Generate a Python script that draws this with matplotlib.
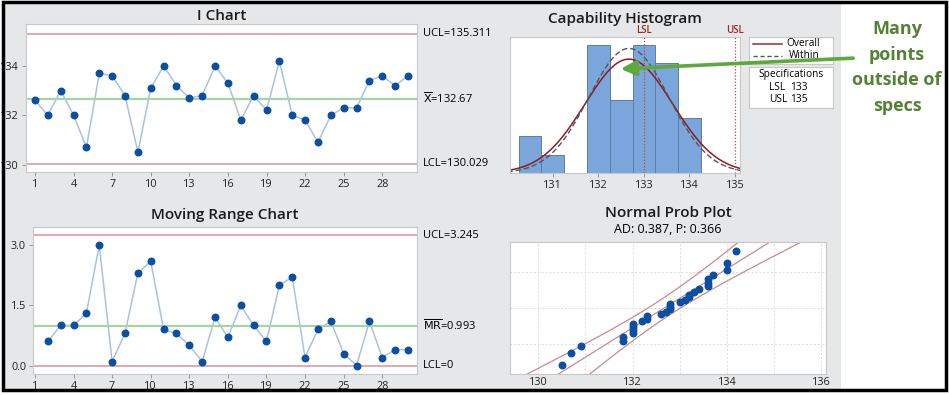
import numpy as np
import matplotlib
matplotlib.use('Agg')
import matplotlib.pyplot as plt
from matplotlib.patches import Rectangle
from statistics import NormalDist

obs = list(range(1, 31))
values = [132.6, 132.0, 133.0, 132.0, 130.7, 133.7, 133.6, 132.8, 130.5, 133.1,
          134.0, 133.2, 132.7, 132.8, 134.0, 133.3, 131.8, 132.8, 132.2, 134.2,
          132.0, 131.8, 130.9, 132.0, 132.3, 132.3, 133.4, 133.6, 133.2, 133.6]
# moving ranges (obs 2..30)
mr_obs = list(range(2, 31))
mr_values = [0.6, 1.0, 1.0, 1.3, 3.0, 0.1, 0.8, 2.3, 2.6, 0.9, 0.8, 0.5, 0.1, 1.2,
             0.7, 1.5, 1.0, 0.6, 2.0, 2.2, 0.2, 0.9, 1.1, 0.3, 0.0, 1.1, 0.2, 0.4, 0.4]
i_limits = {'UCL': 135.311, 'mean': 132.67, 'LCL': 130.029}
mr_limits = {'UCL': 3.245, 'mean': 0.993, 'LCL': 0.0}
hist_edges = [130.25, 130.75, 131.25, 131.75, 132.25, 132.75, 133.25, 133.75, 134.25]
lsl, usl = 133, 135
x_ticks = [1, 4, 7, 10, 13, 16, 19, 22, 25, 28]

W, H = 949, 395
plt.rcParams['font.family'] = ['Open Sans', 'DejaVu Sans']
fig = plt.figure(figsize=(W / 100, H / 100), dpi=100)
fig.patch.set_facecolor('white')

def box(l, t, r, b):
    return [l / W, 1 - b / H, (r - l) / W, (b - t) / H]

# background gray panel
bg = fig.add_axes([0, 0, 1, 1], zorder=-5)
bg.set_xlim(0, W); bg.set_ylim(H, 0); bg.axis('off')
bg.add_patch(Rectangle((3, 2), 838, 388, facecolor='#e6e7e8', edgecolor='none'))

pt_col = '#0b4ea2'
ln_col = '#a9c3dc'
ctr_col = '#a5d4a5'
lim_col = '#d9929a'
spine_col = '#c8c8c8'
title_kw = dict(fontsize=11, fontweight='semibold', color='#1a1a1a')
tick_kw = dict(labelsize=7.8, length=3, width=0.6, color='#888888', pad=2, labelcolor='#222222')
lab_size = 8

def style(ax):
    for s in ax.spines.values():
        s.set_color(spine_col); s.set_linewidth(0.8)
    ax.tick_params(**tick_kw)

# I chart
ax1 = fig.add_axes(box(26, 24, 417, 172))
ax1.plot(obs, values, color=ln_col, lw=1.1, zorder=2)
ax1.scatter(obs, values, s=22, color=pt_col, zorder=3)
ax1.axhline(i_limits['UCL'], color=lim_col, lw=1.1)
ax1.axhline(i_limits['LCL'], color=lim_col, lw=1.1)
ax1.axhline(i_limits['mean'], color=ctr_col, lw=1.6)
ax1.set_xlim(0.3, 30.7); ax1.set_ylim(129.7, 135.7)
ax1.set_yticks([130, 132, 134]); ax1.set_xticks(x_ticks)
style(ax1)
ax1.set_title('I Chart', pad=3, **title_kw)
for lab, v in [('UCL=135.311', i_limits['UCL']), (r'$\overline{\mathrm{X}}$=132.67', i_limits['mean']),
               ('LCL=130.029', i_limits['LCL'])]:
    ax1.annotate(lab, (1, v), xycoords=('axes fraction', 'data'), xytext=(4, 0),
                 textcoords='offset points', va='center', fontsize=lab_size)

# Moving range chart
ax2 = fig.add_axes(box(33, 227, 417, 374))
ax2.plot(mr_obs, mr_values, color=ln_col, lw=1.1, zorder=2)
ax2.scatter(mr_obs, mr_values, s=22, color=pt_col, zorder=3)
ax2.axhline(mr_limits['UCL'], color=lim_col, lw=1.1)
ax2.axhline(mr_limits['LCL'], color=lim_col, lw=1.1)
ax2.axhline(mr_limits['mean'], color=ctr_col, lw=1.6)
ax2.set_xlim(0.85, 30.7); ax2.set_ylim(-0.21, 3.45)
ax2.set_yticks([0.0, 1.5, 3.0]); ax2.set_yticklabels(['0.0', '1.5', '3.0'])
ax2.set_xticks(x_ticks)
style(ax2)
ax2.set_title('Moving Range Chart', pad=6, **title_kw)
for lab, v in [('UCL=3.245', mr_limits['UCL']), (r'$\overline{\mathrm{MR}}$=0.993', mr_limits['mean']),
               ('LCL=0', mr_limits['LCL'])]:
    ax2.annotate(lab, (1, v), xycoords=('axes fraction', 'data'), xytext=(4, 0),
                 textcoords='offset points', va='center', fontsize=lab_size)

# Capability histogram
vals = np.array(values)
mu = vals.mean()
s_overall = vals.std(ddof=1)
s_within = mr_limits['mean'] / 1.128
ax3 = fig.add_axes(box(510, 37, 740, 173))
ax3.hist(vals, bins=hist_edges, color='#7aa6dc', edgecolor='#5b7ea6', lw=0.7)
xs = np.linspace(130.0, 135.2, 300)
scale = len(vals) * 0.5
for sd, kw in [(s_overall, dict(color='#8e1b22', lw=1.1)),
               (s_within, dict(color='#555555', lw=1.0, ls=(0, (4, 2))))]:
    ax3.plot(xs, scale * np.exp(-0.5 * ((xs - mu) / sd) ** 2) / (sd * np.sqrt(2 * np.pi)), **kw)
for spec, name in [(lsl, 'LSL'), (usl, 'USL')]:
    ax3.axvline(spec, color='#c0404a', lw=0.9, ls=(0, (1, 1.5)))
    ax3.text(spec, 7.75, name, color='#a0282d', fontsize=7, ha='center', va='center',
             fontweight='semibold')
ax3.set_xlim(130.06, 135.11); ax3.set_ylim(0, 7.42)
ax3.set_xticks([131, 132, 133, 134, 135]); ax3.set_yticks([])
style(ax3)
ax3.set_title('Capability Histogram', pad=10, **title_kw)

# legend boxes
lg = fig.add_axes(box(749, 37, 833, 64))
lg.set_xlim(749, 833); lg.set_ylim(64, 37); lg.set_xticks([]); lg.set_yticks([])
for s in lg.spines.values():
    s.set_color(spine_col)
lg.plot([753, 782], [44, 44], color='#a0282d', lw=1.1)
lg.plot([753, 782], [56, 56], color='#555555', lw=1.0, ls=(0, (3, 2)))
lg.text(820, 44, 'Overall', fontsize=7.3, ha='right', va='center')
lg.text(820, 56, 'Within', fontsize=7.3, ha='right', va='center')

sp = fig.add_axes(box(749, 67, 833, 108))
sp.set_xlim(749, 833); sp.set_ylim(108, 67); sp.set_xticks([]); sp.set_yticks([])
for s in sp.spines.values():
    s.set_color(spine_col)
sp.text(791, 75, 'Specifications', fontsize=7.3, ha='center', va='center')
sp.text(769, 87, 'LSL', fontsize=7.3, ha='left', va='center')
sp.text(790, 87, str(lsl), fontsize=7.3, ha='left', va='center')
sp.text(769, 99, 'USL', fontsize=7.3, ha='left', va='center')
sp.text(790, 99, str(usl), fontsize=7.3, ha='left', va='center')

# Normal probability plot
nd = NormalDist()
srt = np.sort(vals)
n = len(srt)
zq = np.array([nd.inv_cdf((i + 1 - 0.3) / (n + 0.4)) for i in range(n)])
ax4 = fig.add_axes(box(510, 242, 826, 374))
zz = np.linspace(-3, 3, 200)
fit = mu + zz * s_overall
half = 1.96 * s_overall / np.sqrt(n) * np.sqrt(1 + zz ** 2 / 2)
ax4.plot(fit, zz, color='#c98a8f', lw=0.9)
ax4.plot(fit - half, zz, color='#c98a8f', lw=0.9)
ax4.plot(fit + half, zz, color='#c98a8f', lw=0.9)
ax4.scatter(srt, zq, s=22, color=pt_col, zorder=3)
z10 = nd.inv_cdf(0.9)
for g in [-z10, 0, z10]:
    ax4.axhline(g, color='#dddddd', lw=0.7, ls=(0, (2, 2)), zorder=0)
for g in range(130, 137):
    ax4.axvline(g, color='#dddddd', lw=0.7, ls=(0, (2, 2)), zorder=0)
ax4.set_xlim(129.4, 136.1); ax4.set_ylim(nd.inv_cdf(0.01), nd.inv_cdf(0.99))
ax4.set_xticks([130, 132, 134, 136]); ax4.set_yticks([])
style(ax4)
ax4.tick_params(axis='x', length=0)
ax4.set_title('Normal Prob Plot', pad=18, **title_kw)
ax4.text(0.5, 1.045, 'AD: 0.387, P: 0.366', transform=ax4.transAxes, ha='center',
         va='bottom', fontsize=9, fontweight='medium')

# overlay: annotation and border
ov = fig.add_axes([0, 0, 1, 1], zorder=10)
ov.set_xlim(0, W); ov.set_ylim(H, 0); ov.axis('off')
green = '#548235'
ov.annotate('', xy=(618, 69), xytext=(856, 58),
            arrowprops=dict(arrowstyle='-|>,head_length=0.9,head_width=0.45', color='#5fa83c', lw=2.6))
for txt, y in [('Many', 29), ('points', 55), ('outside of', 80), ('specs', 106)]:
    ov.text(897, y, txt, color=green, fontsize=13, fontweight='bold', ha='center', va='center')
ov.add_patch(Rectangle((3, 2), 943, 388, facecolor='none', edgecolor='black', lw=2.5))

fig.savefig('out.png', dpi=100)
